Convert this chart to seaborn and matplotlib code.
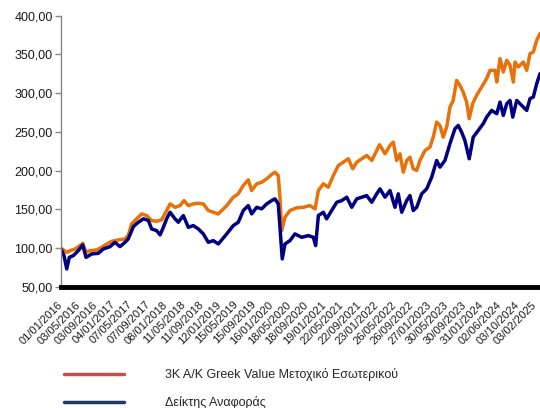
import matplotlib
matplotlib.use("Agg")
import matplotlib.pyplot as plt
from matplotlib.lines import Line2D
from matplotlib.ticker import FuncFormatter, MultipleLocator
import pandas as pd
import seaborn as sns

# fund (orange)
fund_dates = [
    "2016-01-01", "2016-02-10", "2016-03-04", "2016-04-08", "2016-05-13", "2016-06-01",
    "2016-06-24", "2016-07-22", "2016-09-07", "2016-10-12", "2016-11-16", "2016-12-21",
    "2017-02-05", "2017-03-23", "2017-04-16", "2017-05-10", "2017-06-14", "2017-07-19",
    "2017-08-23", "2017-09-27", "2017-11-01", "2017-12-06", "2018-01-10", "2018-02-03",
    "2018-03-10", "2018-04-14", "2018-05-12", "2018-06-11", "2018-07-16", "2018-08-20",
    "2018-09-24", "2018-10-29", "2018-12-03", "2019-01-07", "2019-01-19", "2019-03-07",
    "2019-04-22", "2019-05-27", "2019-07-01", "2019-08-05", "2019-08-29", "2019-10-03",
    "2019-11-07", "2019-12-12", "2020-01-16", "2020-02-08", "2020-03-02", "2020-03-14",
    "2020-03-26", "2020-04-18", "2020-05-23", "2020-07-09", "2020-08-25", "2020-10-10",
    "2020-11-15", "2020-12-08", "2021-01-12", "2021-02-16", "2021-03-23", "2021-04-27",
    "2021-06-01", "2021-07-06", "2021-08-06", "2021-09-03", "2021-10-08", "2021-11-12",
    "2021-12-17", "2022-01-21", "2022-02-10", "2022-03-20", "2022-04-24", "2022-05-17",
    "2022-06-10", "2022-07-03", "2022-07-26", "2022-08-19", "2022-09-11", "2022-10-04",
    "2022-10-28", "2022-11-20", "2022-12-25", "2023-01-29", "2023-02-21", "2023-03-17",
    "2023-04-09", "2023-05-02", "2023-05-26", "2023-06-18", "2023-07-11", "2023-08-04",
    "2023-08-27", "2023-09-19", "2023-10-13", "2023-10-31", "2023-11-24", "2023-12-22",
    "2024-01-26", "2024-03-01", "2024-03-25", "2024-04-29", "2024-05-11", "2024-06-03",
    "2024-06-26", "2024-07-20", "2024-08-12", "2024-09-04", "2024-09-16", "2024-10-09",
    "2024-11-13", "2024-12-07", "2024-12-30", "2025-01-22", "2025-02-15", "2025-03-10",
]
fund_values = [
    100.0, 94.7, 96.9, 99.0, 103.4, 106.3,
    94.7, 96.9, 97.8, 101.2, 105.5, 108.9,
    110.7, 112.0, 116.3, 131.4, 137.9, 144.3,
    142.1, 135.7, 134.8, 136.6, 148.6, 157.2,
    152.8, 155.0, 161.5, 155.0, 157.2, 158.0,
    157.2, 148.6, 146.4, 144.3, 146.4, 155.0,
    165.8, 170.2, 180.9, 188.2, 174.4, 183.1,
    185.1, 189.5, 195.1, 198.1, 193.8, 165.8,
    122.7, 139.9, 148.6, 152.1, 152.8, 155.0,
    150.8, 174.4, 183.1, 178.7, 193.8, 206.7,
    211.0, 215.4, 202.5, 211.0, 215.4, 219.6,
    213.2, 226.1, 233.5, 221.8, 232.6, 236.8,
    213.2, 221.8, 198.1, 213.2, 217.4, 202.5,
    200.3, 213.2, 226.1, 230.4, 243.3, 262.7,
    258.4, 243.3, 256.2, 282.0, 290.7, 316.5,
    310.1, 301.4, 288.5, 267.1, 286.4, 297.2,
    307.9, 318.7, 329.5, 329.5, 314.4, 344.6,
    327.3, 342.4, 336.0, 314.4, 340.2, 333.8,
    340.2, 329.5, 351.0, 353.1, 368.2, 376.9,
]

# benchmark (navy)
bench_dates = [
    "2016-01-01", "2016-01-22", "2016-02-10", "2016-02-28", "2016-03-27", "2016-05-01",
    "2016-06-01", "2016-06-24", "2016-08-03", "2016-09-18", "2016-10-23", "2016-12-09",
    "2017-01-13", "2017-02-17", "2017-03-24", "2017-04-16", "2017-05-22", "2017-06-26",
    "2017-07-31", "2017-09-04", "2017-09-27", "2017-11-01", "2017-11-25", "2017-12-18",
    "2018-01-10", "2018-02-03", "2018-03-10", "2018-04-02", "2018-05-07", "2018-06-11",
    "2018-07-16", "2018-08-20", "2018-09-24", "2018-10-29", "2018-12-03", "2019-01-07",
    "2019-03-07", "2019-04-22", "2019-05-27", "2019-07-01", "2019-08-05", "2019-08-29",
    "2019-10-03", "2019-11-07", "2019-12-12", "2020-01-16", "2020-02-08", "2020-03-02",
    "2020-03-14", "2020-03-30", "2020-04-18", "2020-05-23", "2020-06-27", "2020-08-13",
    "2020-09-29", "2020-11-03", "2020-11-19", "2020-12-08", "2021-01-12", "2021-02-04",
    "2021-03-11", "2021-04-16", "2021-05-21", "2021-06-25", "2021-07-30", "2021-09-03",
    "2021-10-08", "2021-11-12", "2021-12-17", "2022-01-21", "2022-02-13", "2022-03-20",
    "2022-04-24", "2022-05-29", "2022-06-21", "2022-07-15", "2022-08-19", "2022-09-11",
    "2022-10-04", "2022-10-28", "2022-12-02", "2023-01-06", "2023-02-10", "2023-03-17",
    "2023-04-09", "2023-05-14", "2023-06-18", "2023-07-23", "2023-08-15", "2023-09-08",
    "2023-10-01", "2023-10-31", "2023-11-28", "2024-01-02", "2024-02-06", "2024-03-01",
    "2024-04-05", "2024-05-11", "2024-06-03", "2024-06-26", "2024-07-20", "2024-08-12",
    "2024-08-31", "2024-09-28", "2024-11-02", "2024-12-07", "2024-12-30", "2025-01-22",
    "2025-02-15", "2025-03-10",
]
bench_values = [
    99.0, 90.4, 73.3, 88.2, 90.4, 96.9,
    104.3, 88.2, 92.6, 93.4, 99.0, 102.0,
    107.6, 102.0, 107.6, 112.0, 127.9, 133.5,
    137.9, 135.7, 124.9, 122.7, 117.2, 127.0,
    137.9, 146.4, 137.9, 133.5, 142.1, 127.0,
    129.2, 124.9, 118.5, 107.6, 109.8, 105.5,
    118.5, 129.2, 133.5, 148.6, 155.0, 144.3,
    152.8, 150.8, 157.2, 161.5, 163.7, 157.2,
    127.0, 86.2, 105.5, 109.8, 118.5, 114.1,
    116.3, 114.1, 103.4, 142.1, 146.4, 137.9,
    148.6, 159.3, 161.5, 165.8, 152.8, 163.7,
    165.8, 167.9, 159.3, 170.2, 176.6, 165.8,
    174.4, 152.8, 170.2, 146.4, 161.5, 167.9,
    148.6, 152.8, 170.2, 176.6, 191.6, 213.2,
    204.6, 213.2, 234.8, 254.1, 258.4, 249.7,
    239.0, 215.4, 243.3, 251.9, 260.6, 269.1,
    277.8, 273.5, 288.5, 271.3, 286.4, 290.7,
    269.1, 290.7, 284.2, 277.8, 293.0, 295.0,
    312.3, 325.2,
]

tick_labels = [
    "01/01/2016", "03/05/2016", "03/09/2016", "04/01/2017", "07/05/2017", "07/09/2017",
    "08/01/2018", "11/05/2018", "11/09/2018", "12/01/2019", "15/05/2019", "15/09/2019",
    "16/01/2020", "18/05/2020", "18/09/2020", "19/01/2021", "22/05/2021", "22/09/2021",
    "23/01/2022", "26/05/2022", "26/09/2022", "27/01/2023", "30/05/2023", "30/09/2023",
    "31/01/2024", "02/06/2024", "03/10/2024", "03/02/2025",
]

series_names = ["3K A/K Greek Value Μετοχικό Εσωτερικού", "Δείκτης Αναφοράς"]

sns.set_style("white")
plt.rcParams["font.family"] = ["Liberation Sans", "DejaVu Sans"]

fund = pd.DataFrame({"date": pd.to_datetime(fund_dates), "value": fund_values})
bench = pd.DataFrame({"date": pd.to_datetime(bench_dates), "value": bench_values})

fig = plt.figure(figsize=(5.4, 4.08), dpi=100)
ax = fig.add_axes([0.113, 0.2966, 0.887, 0.665])

sns.lineplot(data=fund, x="date", y="value", ax=ax, color="#E8710A", linewidth=2.5)
sns.lineplot(data=bench, x="date", y="value", ax=ax, color="#000080", linewidth=2.5)

ax.set_ylim(50, 400)
ax.yaxis.set_major_locator(MultipleLocator(50))
ax.yaxis.set_major_formatter(FuncFormatter(lambda v, p: f"{v:.2f}".replace(".", ",")))
ax.set_xlim(pd.Timestamp("2016-01-01"), pd.Timestamp("2025-03-10"))

ticks = pd.to_datetime(tick_labels, dayfirst=True)
ax.set_xticks(ticks)
ax.set_xticklabels(tick_labels, rotation=45, ha="right", va="center",
                   rotation_mode="anchor")
ax.set_xlabel("")
ax.set_ylabel("")

for s in ["top", "right"]:
    ax.spines[s].set_visible(False)
ax.spines["left"].set_color("#868686")
ax.spines["left"].set_linewidth(1.0)
ax.spines["bottom"].set_color("black")
ax.spines["bottom"].set_linewidth(3.5)
ax.tick_params(axis="y", left=True, length=4, width=1, color="#868686",
               labelsize=9, labelcolor="#1a1a1a", pad=2)
ax.tick_params(axis="x", bottom=False, labelsize=8, labelcolor="#1a1a1a", pad=8)

handles = [Line2D([], [], color="#C0504D", linewidth=2.5),
           Line2D([], [], color="#1F3864", linewidth=2.5)]
fig.legend(handles, series_names, loc="center left", bbox_to_anchor=(0.118, 0.048),
           frameon=False, fontsize=9, handlelength=4.8, handletextpad=3.3,
           labelspacing=1.2, borderpad=0, borderaxespad=0)

fig.savefig("out.png", dpi=100)
